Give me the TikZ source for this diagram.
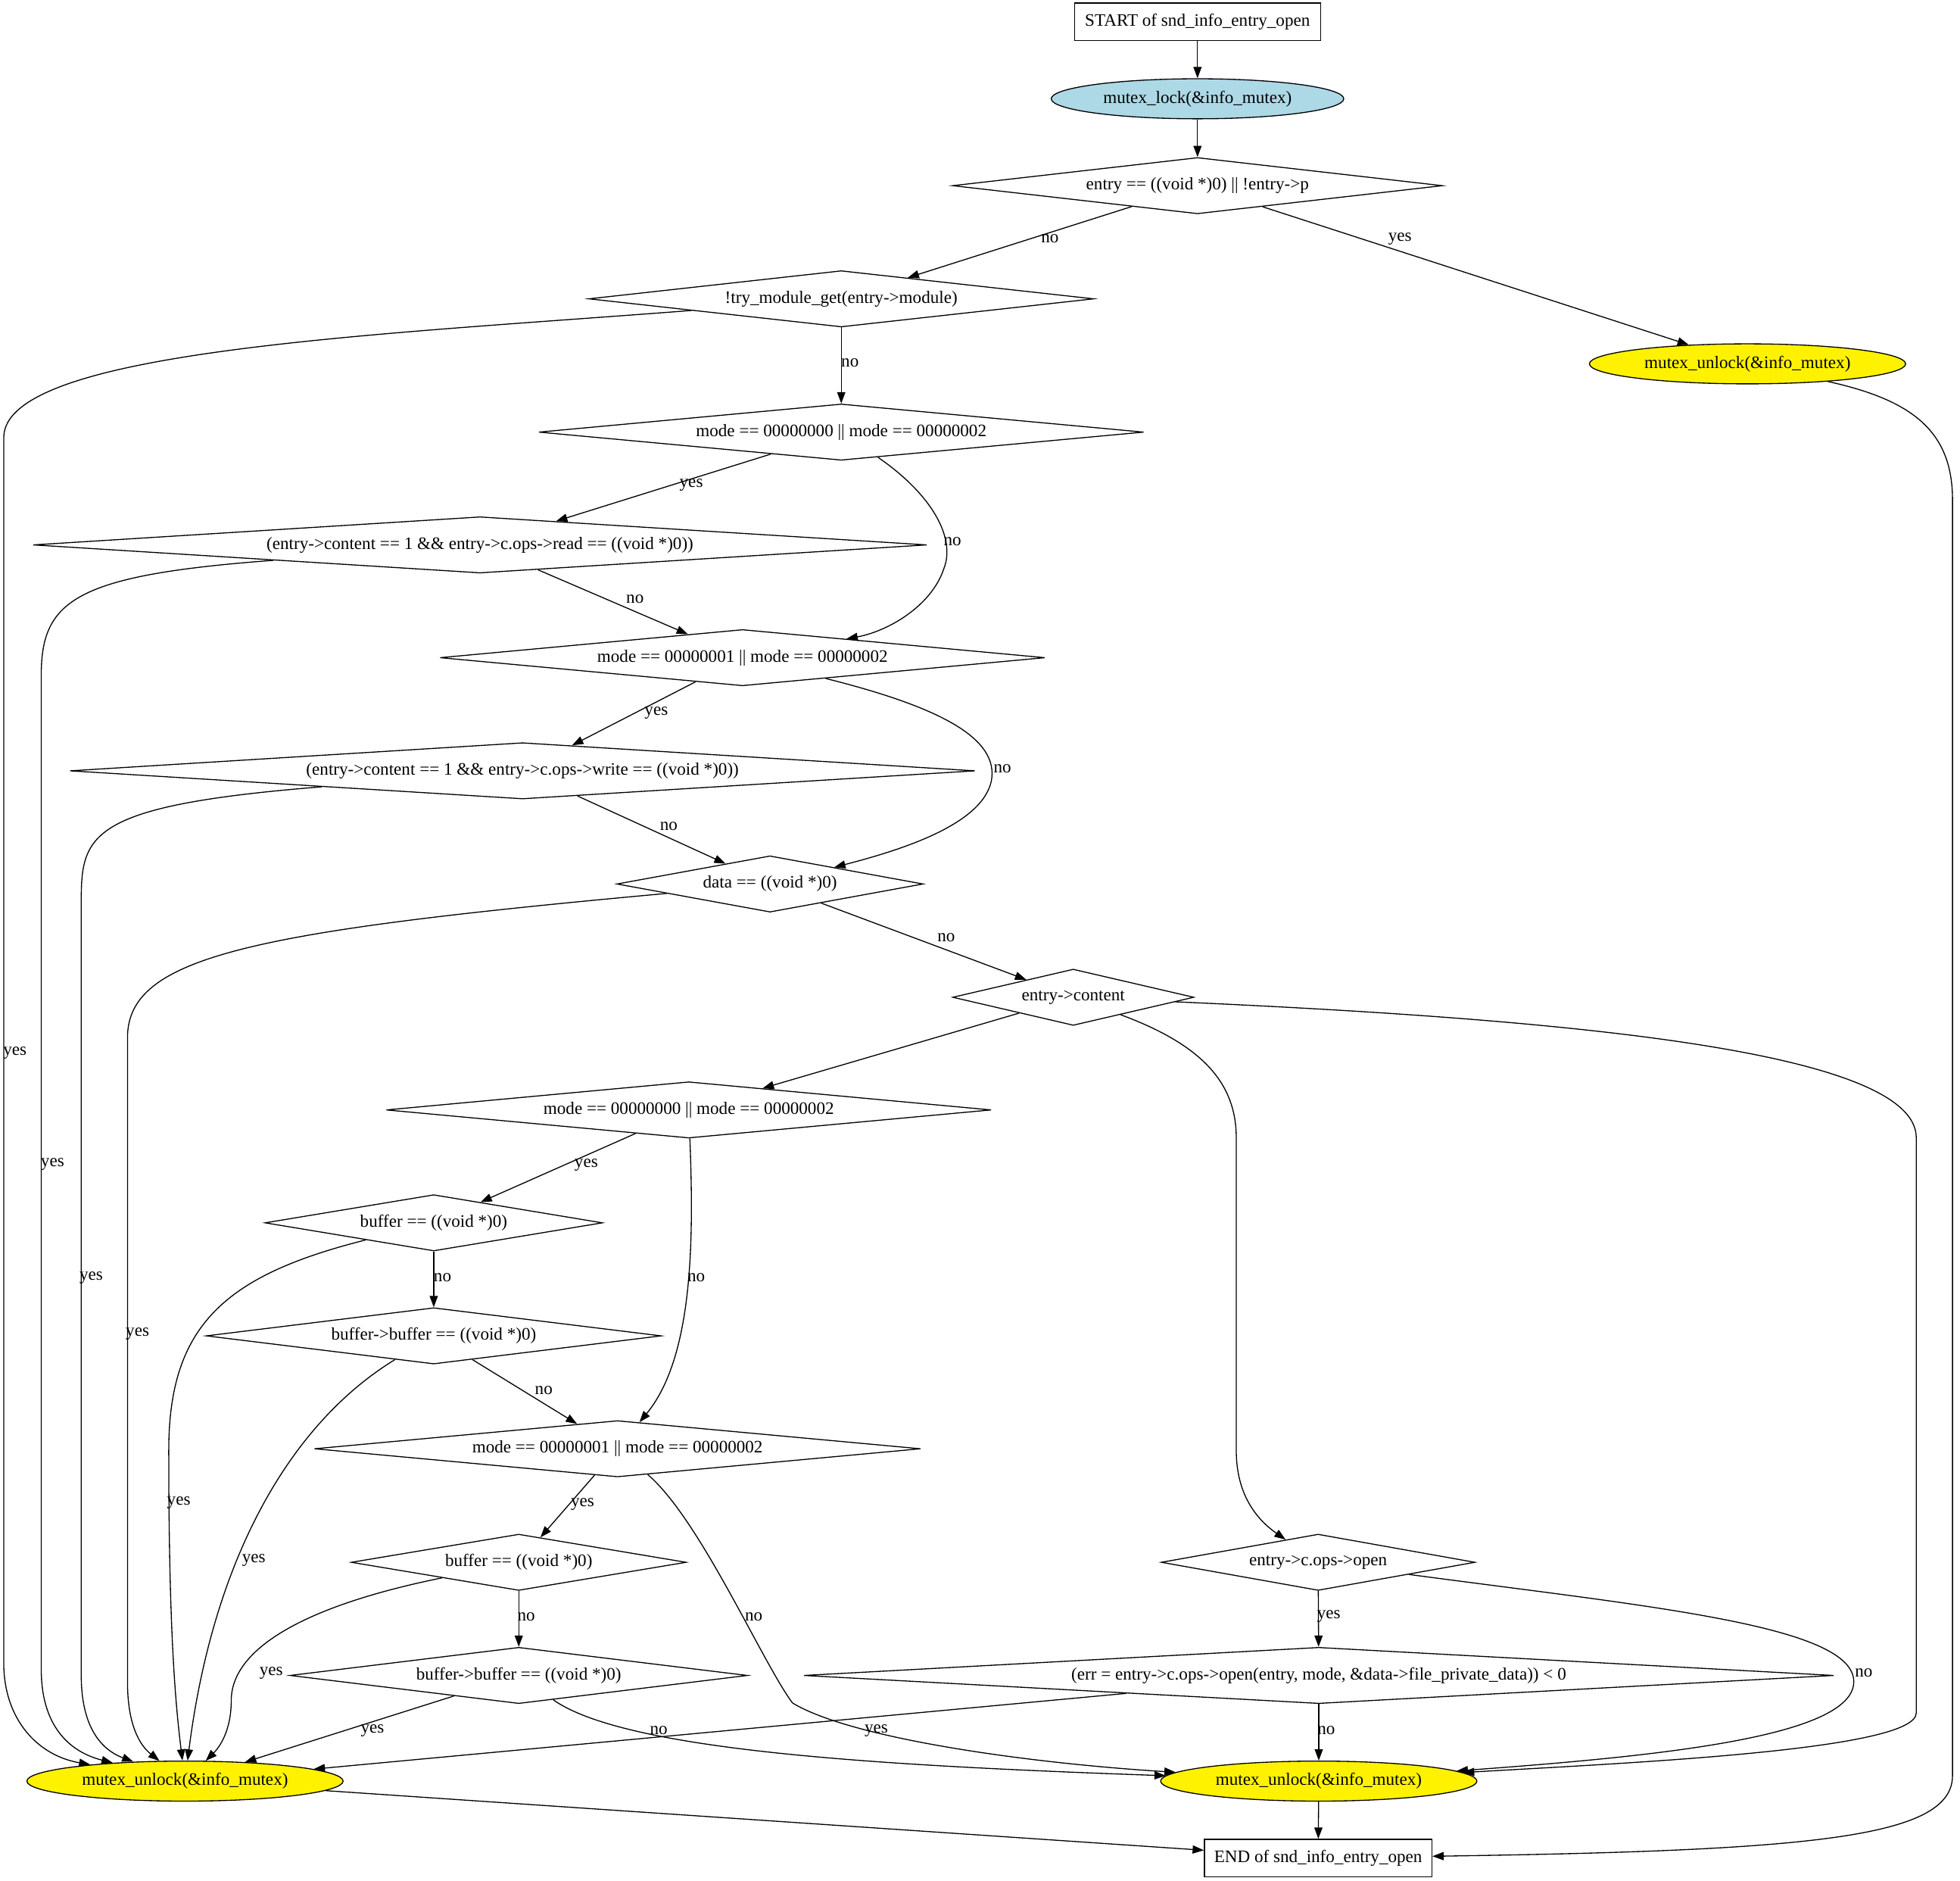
\documentclass[tikz,border=0pt]{standalone}
\usepackage{fontspec}
\setmainfont{Liberation Serif}
\usetikzlibrary{arrows.meta,positioning,shapes.geometric}
\definecolor{lockblue}{RGB}{173,216,230}
\tikzstyle{terminal}=[draw,rectangle,inner sep=0pt,minimum height=30bp]
\tikzstyle{decision}=[draw,diamond,inner sep=0pt,minimum height=45bp]
\tikzstyle{lockcall}=[draw,ellipse,inner sep=0pt,minimum width=234bp,minimum height=32bp,fill=lockblue]
\tikzstyle{unlockcall}=[draw,ellipse,inner sep=0pt,minimum width=253bp,minimum height=32bp,fill=yellow]
\tikzstyle{flow}=[-{Triangle[length=9bp,width=6.5bp]}]
\tikzstyle{answer}=[inner sep=0pt]

\begin{document}
\begin{tikzpicture}[x=1bp,y=-1bp,line width=0.8bp,font=\fontsize{14bp}{16bp}\selectfont]
\useasboundingbox (0,0) rectangle (1568,1504);
% entry
\node [terminal,minimum width=197bp] (start) at (958,17.5) {START of snd\_info\_entry\_open};
\node [lockcall] (lock) at (958,79) {mutex\_lock(\&info\_mutex)};
\node [decision,minimum width=392bp,aspect=8.7] (d1) at (958,148.5) {entry == ((void *)0) || !entry->p};
\node [decision,minimum width=404bp,aspect=9.0] (d2) at (673,239) {!try\_module\_get(entry->module)};
\node [unlockcall] (unlockr) at (1398,291) {mutex\_unlock(\&info\_mutex)};
% mode checks
\node [decision,minimum width=484bp,aspect=10.8] (d3) at (673,345.6) {mode == 00000000 || mode == 00000002};
\node [decision,minimum width=715bp,aspect=15.9] (d4) at (384,435.8) {(entry->content == 1 \&\& entry->c.ops->read == ((void *)0))};
\node [decision,minimum width=484bp,aspect=10.8] (d5) at (594,526) {mode == 00000001 || mode == 00000002};
\node [decision,minimum width=724bp,aspect=16.1] (d6) at (418,616.5) {(entry->content == 1 \&\& entry->c.ops->write == ((void *)0))};
\node [decision,minimum width=245bp,aspect=5.4] (d7) at (616,707) {data == ((void *)0)};
\node [decision,minimum width=193bp,aspect=4.3] (d8) at (858.6,797.6) {entry->content};
% buffer checks
\node [decision,minimum width=484bp,aspect=10.8] (d9) at (551,887.7) {mode == 00000000 || mode == 00000002};
\node [decision,minimum width=270bp,aspect=6.0] (d10) at (347,978) {buffer == ((void *)0)};
\node [decision,minimum width=364bp,aspect=8.1] (d11) at (347,1068.4) {buffer->buffer == ((void *)0)};
\node [decision,minimum width=485bp,aspect=10.8] (d12) at (494,1158.7) {mode == 00000001 || mode == 00000002};
\node [decision,minimum width=268bp,aspect=6.0] (d14) at (415,1249.5) {buffer == ((void *)0)};
\node [decision,minimum width=366bp,aspect=8.1] (d16) at (415,1340) {buffer->buffer == ((void *)0)};
% open
\node [decision,minimum width=251bp,aspect=5.6] (d13) at (1054.5,1249.5) {entry->c.ops->open};
\node [decision,minimum width=824bp,aspect=18.3] (d15) at (1055,1340) {(err = entry->c.ops->open(entry, mode, \&data->file\_private\_data)) < 0};
% exits
\node [unlockcall] (unlocka) at (148,1424.5) {mutex\_unlock(\&info\_mutex)};
\node [unlockcall] (unlockb) at (1055,1424.5) {mutex\_unlock(\&info\_mutex)};
\node [terminal,minimum width=182bp] (stop) at (1054.5,1486) {END of snd\_info\_entry\_open};

% answers
\node [answer] (a1) at (840,191) {no};
\node [answer] (a2) at (1120,191) {yes};
\node [answer] (a3) at (12,842) {yes};
\node [answer] (a4) at (680,290) {no};
\node [answer] (a5) at (553,388) {yes};
\node [answer] (a6) at (762,433) {no};
\node [answer] (a7) at (42,931) {yes};
\node [answer] (a8) at (508,479) {no};
\node [answer] (a9) at (525,570) {yes};
\node [answer] (a10) at (802,615) {no};
\node [answer] (a11) at (73,1022) {yes};
\node [answer] (a12) at (535,661) {no};
\node [answer] (a13) at (110,1067) {yes};
\node [answer] (a14) at (757,750) {no};
\node [answer] (a15) at (469,932) {yes};
\node [answer] (a16) at (557,1022) {no};
\node [answer] (a17) at (143,1202) {yes};
\node [answer] (a18) at (354,1022) {no};
\node [answer] (a19) at (203,1248) {yes};
\node [answer] (a20) at (435,1112) {no};
\node [answer] (a21) at (466,1203) {yes};
\node [answer] (a22) at (603,1293) {no};
\node [answer] (a23) at (217,1338) {yes};
\node [answer] (a24) at (421,1293) {no};
\node [answer] (a25) at (298,1384) {yes};
\node [answer] (a26) at (527,1384) {no};
\node [answer] (a27) at (1063,1293) {yes};
\node [answer] (a28) at (1491,1338) {no};
\node [answer] (a29) at (701,1384) {yes};
\node [answer] (a30) at (1061,1384) {no};

% straight flows
\draw [flow] (start) -- (lock);
\draw [flow] (lock) -- (d1);
\draw [flow] (d1) -- (d2);
\draw [flow] (d1) -- (unlockr);
\draw [flow] (d2) -- (d3);
\draw [flow] (d3) -- (d4);
\draw [flow] (d4) -- (d5);
\draw [flow] (d5) -- (d6);
\draw [flow] (d6) -- (d7);
\draw [flow] (d7) -- (d8);
\draw [flow] (d8) -- (d9);
\draw [flow] (d9) -- (d10);
\draw [flow] (d10) -- (d11);
\draw [flow] (d11) -- (d12);
\draw [flow] (d12) -- (d14);
\draw [flow] (d14) -- (d16);
\draw [flow] (d16) -- (unlocka);
\draw [flow] (d13) -- (d15);
\draw [flow] (d15) -- (unlocka);
\draw [flow] (d15) -- (unlockb);
\draw [flow] (unlocka) -- (stop);
\draw [flow] (unlockb) -- (stop);

% left exits
\draw [flow] (d2) .. controls (300,268) and (3,280) .. (3,350) -- (3,1330) .. controls (3,1375) and (30,1404) .. (unlocka);
\draw [flow] (d4) .. controls (60,460) and (33,480) .. (33,540) -- (33,1335) .. controls (33,1380) and (55,1401) .. (unlocka);
\draw [flow] (d6) .. controls (60,645) and (65,670) .. (65,730) -- (65,1340) .. controls (65,1380) and (80,1399) .. (unlocka);
\draw [flow] (d7) .. controls (200,745) and (102,765) .. (102,830) -- (102,1345) .. controls (102,1380) and (112,1396) .. (unlocka);
\draw [flow] (d10) .. controls (180,1020) and (135,1060) .. (135,1160) .. controls (135,1300) and (140,1360) .. (unlocka);
\draw [flow] (d11) .. controls (230,1140) and (170,1250) .. (unlocka);
\draw [flow] (d14) .. controls (240,1285) and (185,1320) .. (185,1360) .. controls (185,1385) and (175,1398) .. (unlocka);

% skips
\draw [flow] (d3) .. controls (745,395) and (765,430) .. (755,455) .. controls (745,485) and (710,505) .. (d5);
\draw [flow] (d5) .. controls (750,565) and (800,590) .. (793,625) .. controls (785,660) and (720,680) .. (d7);
\draw [flow] (d9) .. controls (555,990) and (555,1085) .. (d12);
\draw [flow] (d12) .. controls (560,1215) and (610,1330) .. (634,1362) .. controls (680,1390) and (820,1410) .. (unlockb);
\draw [flow] (d16) .. controls (500,1400) and (700,1412) .. (unlockb);

% right side
\draw [flow] (d8) .. controls (960,835) and (989,865) .. (989,910) -- (989,1160) .. controls (989,1195) and (1005,1215) .. (d13);
\draw [flow] (d8) .. controls (1250,815) and (1533,840) .. (1533,910) -- (1533,1370) .. controls (1533,1400) and (1300,1410) .. (unlockb);
\draw [flow] (d13) .. controls (1320,1285) and (1483,1300) .. (1483,1345) .. controls (1483,1390) and (1320,1405) .. (unlockb);
\draw [flow] (unlockr) .. controls (1530,320) and (1562,345) .. (1562,400) -- (1562,1420) .. controls (1562,1470) and (1450,1480) .. (stop);
\end{tikzpicture}
\end{document}
